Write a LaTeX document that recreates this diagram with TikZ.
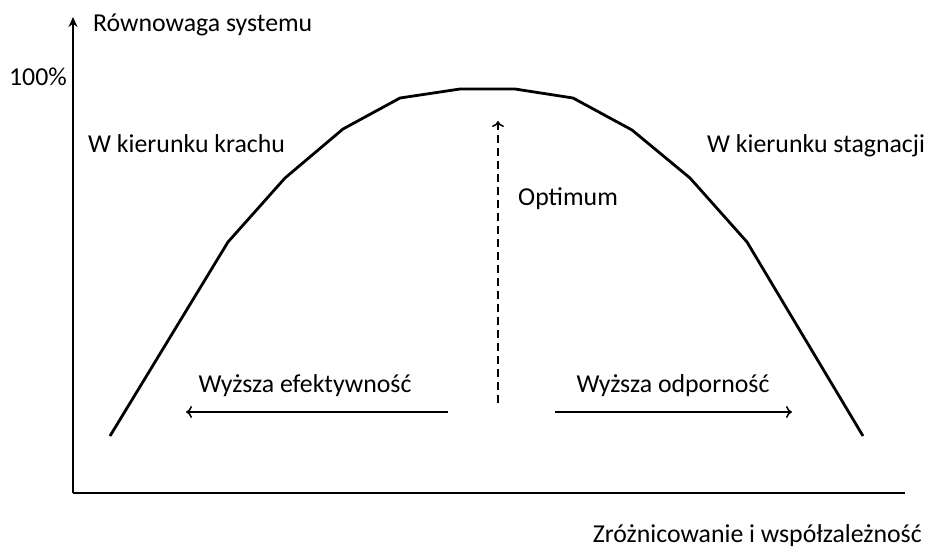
\documentclass[tikz,border=0pt]{standalone}
\usepackage{fontspec}
\setmainfont{Carlito}
\usetikzlibrary{arrows.meta}

\begin{document}
\begin{tikzpicture}[x=1pt,y=-1pt,font=\fontsize{25.8}{30}\selectfont,
  axis/.style={line width=2.6pt},
  curve/.style={line width=2.8pt,line join=round},
  label/.style={inner sep=0pt},
  thin arrow/.style={line width=1.5pt,-{To[length=6pt,width=12pt]}}]
\useasboundingbox (0,0) rectangle (930,550);

% axes
\coordinate (O) at (73,493);
\coordinate (Ytop) at (73,17);
\coordinate (Xend) at (905,493);
\draw[axis,-{Stealth[length=10pt,width=9pt]}] (O) -- (Ytop);
\draw[axis] (O) -- (Xend);

% curve
\coordinate (c1) at (110,436);
\coordinate (c2) at (228,242);
\coordinate (c3) at (285,178);
\coordinate (c4) at (343,129);
\coordinate (c5) at (400,98);
\coordinate (c6) at (460,89);
\coordinate (c7) at (515,89);
\coordinate (c8) at (573,98);
\coordinate (c9) at (632,130);
\coordinate (c10) at (690,178);
\coordinate (c11) at (747,242);
\coordinate (c12) at (863,436);
\draw[curve] (c1) -- (c2) -- (c3) -- (c4) -- (c5) -- (c6) -- (c7) -- (c8) -- (c9) -- (c10) -- (c11) -- (c12);

% labels
\node[label,anchor=base west] (ylab) at (93,31) {Równowaga systemu};
\node[label,anchor=east] (pct) at (67,77) {100\%};
\node[label,anchor=base west] (crash) at (88,152) {W kierunku krachu};
\node[label,anchor=base west] (stag) at (707,152) {W kierunku stagnacji};
\node[label,anchor=base west] (opt) at (518,205) {Optimum};
\node[label,anchor=base] (eff) at (305,392) {Wyższa efektywność};
\node[label,anchor=base] (res) at (673,392) {Wyższa odporność};
\node[label,anchor=base east] (xlab) at (922,542) {Zróżnicowanie i współzależność};

% arrows
\coordinate (optB) at (498,403);
\coordinate (optT) at (498,121);
\coordinate (effA) at (448,412);
\coordinate (effB) at (186,412);
\coordinate (resA) at (555,412);
\coordinate (resB) at (792,412);
\draw[thin arrow,dash pattern=on 8pt off 5pt] (optB) -- (optT);
\draw[thin arrow] (effA) -- (effB);
\draw[thin arrow] (resA) -- (resB);
\end{tikzpicture}
\end{document}
